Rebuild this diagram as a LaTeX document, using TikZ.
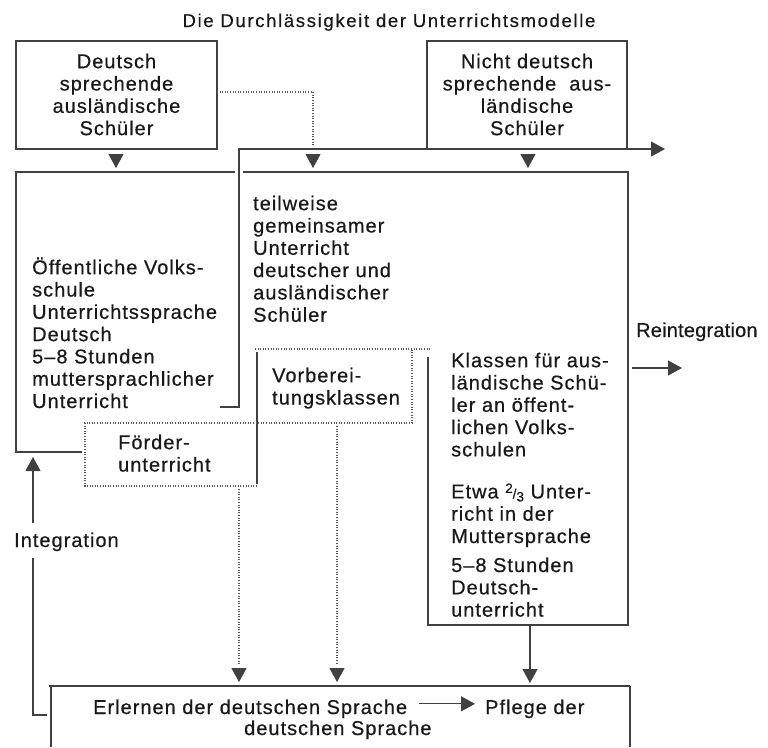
\documentclass[tikz,border=0pt]{standalone}
\usepackage{fontspec}
\setmainfont{Liberation Sans}
\newfontfamily\bodyfont[LetterSpace=5,FakeBold=0.5]{Liberation Sans}
\newfontfamily\tightfont[LetterSpace=1,FakeBold=0.5]{Liberation Sans}
\newfontfamily\titlefont[LetterSpace=9,FakeBold=0.4]{Liberation Sans}
\usetikzlibrary{arrows.meta}
\begin{document}
\begin{tikzpicture}[x=1pt,y=-1pt,
  frame/.style={draw=black!75,line width=1.1pt},
  dotline/.style={draw=black!65,line width=1.1pt,dash pattern=on 1pt off 1.6pt},
  tri/.style={-{Triangle[length=14pt,width=15pt]}},
  txt/.style={inner sep=0pt,text=black!90,font=\bodyfont\fontsize{20}{22.3}\selectfont},
  ttl/.style={inner sep=0pt,text=black!90,font=\titlefont\fontsize{18.5}{20}\selectfont}]
\useasboundingbox (0,0) rectangle (768,747);
\fill[white] (0,0) rectangle (768,747);

% title
\node[ttl,anchor=base] (title) at (389,27) {Die Durchlässigkeit der Unterrichtsmodelle};

% text blocks
\node[txt,anchor=north,align=center] (dsa) at (116.5,50)
  {\rule{0pt}{18pt}Deutsch\\sprechende\\ausländische\\Schüler};
\node[txt,anchor=north,align=center] (nds) at (527,50)
  {\rule{0pt}{18pt}Nicht deutsch\\sprechende\ \ aus-\\ländische\\Schüler};
\node[txt,anchor=north west,align=left] (ovs) at (32,256)
  {\rule{0pt}{18pt}Öffentliche Volks-\\schule\\Unterrichtssprache\\Deutsch\\5–8 Stunden\\muttersprachlicher\\Unterricht};
\node[txt,anchor=north west,align=left] (tgu) at (253,192)
  {\rule{0pt}{18pt}teilweise\\gemeinsamer\\Unterricht\\deutscher und\\ausländischer\\Schüler};
\node[txt,anchor=north west,align=left] (vbk) at (272,364)
  {\rule{0pt}{18pt}Vorberei-\\tungsklassen};
\node[txt,anchor=north west,align=left] (fu) at (118,431)
  {\rule{0pt}{18pt}Förder-\\unterricht};
\node[txt,anchor=north west,align=left] (kla) at (451,349)
  {\rule{0pt}{18pt}Klassen für aus-\\ländische Schü-\\ler an öffent-\\lichen Volks-\\schulen\\[19.7pt]
   Etwa {\fontsize{13.5}{13.5}\selectfont\raisebox{5.5pt}{2}/\raisebox{-3pt}{3}} Unter-\\richt in der\\Muttersprache\\[6.7pt]
   5–8 Stunden\\Deutsch-\\unterricht};
\node[txt,anchor=base west] (integ) at (14,547) {Integration};
\node[txt,anchor=base west,font=\tightfont\fontsize{20}{22.3}\selectfont] (reint) at (636,337) {Reintegration};
\node[txt,anchor=base west] (erl) at (93,714) {Erlernen der deutschen Sprache};
\node[txt,anchor=base west] (pfl) at (485,714) {Pflege der};
\node[txt,anchor=base west] (dsp) at (244,735) {deutschen Sprache};

% frames
\draw[frame] (16,41) rectangle (217,149);
\draw[frame] (427,149) -- (427,41) -- (627,41) -- (627,149);
\draw[frame] (15,172) -- (235,172);
\draw[frame] (16,172) -- (16,452) -- (82,452);
\draw[frame] (243,172) -- (629,172);
\draw[frame] (628,172) -- (628,625) -- (427,625);
\draw[frame] (428,357) -- (428,625);
\draw[frame] (257,352) -- (257,484);
\draw[frame] (49,686) -- (630,686);
\draw[frame] (51,686) -- (51,747);
\draw[frame] (630,686) -- (630,747);

% dotted boxes
\draw[dotline] (257,486) -- (85,486) -- (85,423) -- (412,423) -- (412,349);
\draw[dotline] (255,349) -- (430,349);

% coordinates for connectors
\coordinate (aR) at (217,92);
\coordinate (aC) at (313,92);
\coordinate (aE) at (313,146);
\coordinate (stub) at (220,407);
\coordinate (topEnd) at (665,149);
\coordinate (fuOut) at (239,489);
\coordinate (vbOut) at (337,426);
\coordinate (klOut) at (530,626);
\coordinate (bot1) at (239,665);
\coordinate (bot2) at (337,665);
\coordinate (intStub) at (47,715);
\coordinate (reS) at (632,368);
\coordinate (reE) at (682,368);

% connectors
\draw[dotline] (aR) -- (aC) -- (aE);
\draw[frame,tri] (stub) -- (239,407) -- (239,149) -- (topEnd);
\draw[dotline] (fuOut) -- (bot1);
\draw[dotline] (vbOut) -- (bot2);
\draw[frame,tri] (klOut) -- (530,683);
\draw[frame] (intStub) -- (33,715) -- (33,558);
\draw[frame,tri] (33,523) -- (33,457);
\draw[frame,tri] (reS) -- (reE);
\draw[frame,tri] ([xshift=12pt,yshift=5pt]erl.east) -- ([xshift=-10pt,yshift=5pt]pfl.west);

% arrowheads between boxes
\foreach \x in {116,313,528}{
  \draw[frame,tri] (\x,154) -- (\x,168);
}
\foreach \x in {239,337}{
  \draw[frame,tri] (\x,668) -- (\x,682);
}
\end{tikzpicture}
\end{document}
